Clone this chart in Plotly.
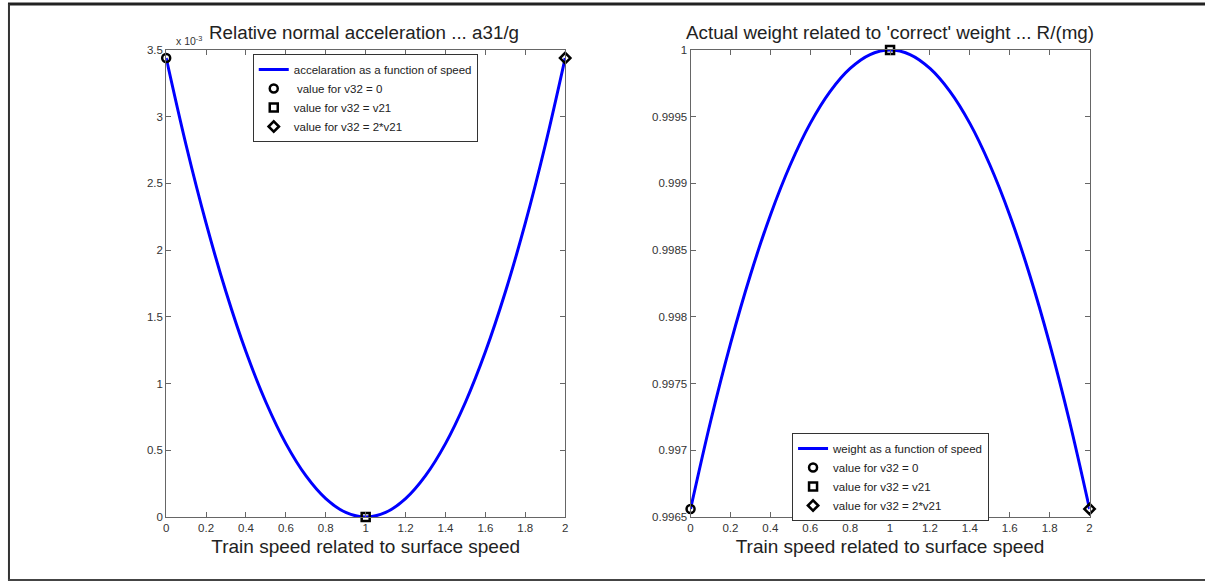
import plotly.graph_objects as go

# ---- data ----
speed = [0.0, 0.1, 0.2, 0.3, 0.4, 0.5, 0.6, 0.7, 0.8, 0.9, 1.0,
         1.1, 1.2, 1.3, 1.4, 1.5, 1.6, 1.7, 1.8, 1.9, 2.0]
accel = [3.44e-3, 2.786e-3, 2.202e-3, 1.686e-3, 1.238e-3, 0.860e-3, 0.550e-3,
         0.310e-3, 0.138e-3, 0.034e-3, 0.0,
         0.034e-3, 0.138e-3, 0.310e-3, 0.550e-3, 0.860e-3, 1.238e-3,
         1.686e-3, 2.202e-3, 2.786e-3, 3.44e-3]
weight = [0.99656, 0.997214, 0.997798, 0.998314, 0.998762, 0.99914, 0.99945,
          0.99969, 0.999862, 0.999966, 1.0,
          0.999966, 0.999862, 0.99969, 0.99945, 0.99914, 0.998762,
          0.998314, 0.997798, 0.997214, 0.99656]

pt_speed = [0.0, 1.0, 2.0]
pt_accel = [3.44e-3, 0.0, 3.44e-3]
pt_weight = [0.99656, 1.0, 0.99656]

x_ticks = [0, 0.2, 0.4, 0.6, 0.8, 1, 1.2, 1.4, 1.6, 1.8, 2]
x_ticktext = ["0", "0.2", "0.4", "0.6", "0.8", "1", "1.2", "1.4", "1.6", "1.8", "2"]
acc_ticks = [0, 0.5e-3, 1e-3, 1.5e-3, 2e-3, 2.5e-3, 3e-3, 3.5e-3]
acc_ticktext = ["0", "0.5", "1", "1.5", "2", "2.5", "3", "3.5"]
w_ticks = [0.9965, 0.997, 0.9975, 0.998, 0.9985, 0.999, 0.9995, 1.0]
w_ticktext = ["0.9965", "0.997", "0.9975", "0.998", "0.9985", "0.999", "0.9995", "1"]

left_names = ["accelaration as a function of speed", " value for v32 = 0",
              "value for v32 = v21", "value for v32 = 2*v21"]
right_names = ["weight as a function of speed", "value for v32 = 0",
               "value for v32 = v21", "value for v32 = 2*v21"]
symbols = ["circle-open", "square-open", "diamond-open"]

FONT = "Liberation Sans, Arial, Helvetica, sans-serif"
W, H = 1205, 582
ML, MR, MT, MB = 0, 0, 50, 65

fig = go.Figure()

# left panel
fig.add_trace(go.Scatter(x=speed, y=accel, mode="lines", name=left_names[0],
                         line=dict(color="#0000ff", width=3, shape="spline"),
                         xaxis="x", yaxis="y", legend="legend"))
for i in range(3):
    fig.add_trace(go.Scatter(x=[pt_speed[i]], y=[pt_accel[i]], mode="markers",
                             name=left_names[i + 1], cliponaxis=False,
                             marker=dict(symbol=symbols[i], size=8, color="black",
                                         line=dict(width=2.5, color="black")),
                             xaxis="x", yaxis="y", legend="legend"))
# right panel
fig.add_trace(go.Scatter(x=speed, y=weight, mode="lines", name=right_names[0],
                         line=dict(color="#0000ff", width=3, shape="spline"),
                         xaxis="x2", yaxis="y2", legend="legend2"))
for i in range(3):
    fig.add_trace(go.Scatter(x=[pt_speed[i]], y=[pt_weight[i]], mode="markers",
                             name=right_names[i + 1], cliponaxis=False,
                             marker=dict(symbol=symbols[i], size=8, color="black",
                                         line=dict(width=2.5, color="black")),
                             xaxis="x2", yaxis="y2", legend="legend2"))

axis_common = dict(showline=True, mirror="ticks", linecolor="#666", linewidth=1,
                   ticks="inside", ticklen=5, tickcolor="#666", showgrid=False,
                   zeroline=False, tickfont=dict(size=11.5, color="#333", family=FONT))

def px_x(p):
    return (p - ML) / (W - ML - MR)

def px_y(p):
    return (H - MB - p) / (H - MT - MB)

xtitle = dict(text="Train speed related to surface speed",
              font=dict(size=19, color="#222"), standoff=6)

fig.update_layout(
    width=W, height=H,
    margin=dict(l=ML, r=MR, t=MT, b=MB),
    paper_bgcolor="white", plot_bgcolor="white",
    font=dict(family=FONT, color="#222"),
    xaxis=dict(domain=[px_x(164), px_x(565)], range=[0, 2], tickvals=x_ticks,
               ticktext=x_ticktext, anchor="y", title=xtitle, **axis_common),
    yaxis=dict(domain=[0, 1], range=[0, 3.5e-3], tickvals=acc_ticks,
               ticktext=acc_ticktext, anchor="x", **axis_common),
    xaxis2=dict(domain=[px_x(691), px_x(1092)], range=[0, 2], tickvals=x_ticks,
                ticktext=x_ticktext, anchor="y2", title=xtitle, **axis_common),
    yaxis2=dict(domain=[0, 1], range=[0.9965, 1.0], tickvals=w_ticks,
                ticktext=w_ticktext, anchor="x2", **axis_common),
    legend=dict(x=px_x(251), y=px_y(54), xanchor="left", yanchor="top",
                bordercolor="#333", borderwidth=1, bgcolor="white",
                font=dict(size=11.5, family=FONT, color="#222"),
                tracegroupgap=0, itemwidth=30),
    legend2=dict(x=px_x(793), y=px_y(433), xanchor="left", yanchor="top",
                 bordercolor="#333", borderwidth=1, bgcolor="white",
                 font=dict(size=11.5, family=FONT, color="#222"),
                 tracegroupgap=0, itemwidth=30, entrywidth=180,
                 entrywidthmode="pixels"),
    annotations=[
        dict(text="Relative normal acceleration ... a31/g", x=px_x(363), y=px_y(33),
             xref="paper", yref="paper", xanchor="center", yanchor="middle",
             showarrow=False, font=dict(size=18.8, color="#222")),
        dict(text="Actual weight related to 'correct' weight ... R/(mg)",
             x=px_x(891), y=px_y(33), xref="paper", yref="paper",
             xanchor="center", yanchor="middle", showarrow=False,
             font=dict(size=18.8, color="#222")),
        dict(text="x 10<sup>-3</sup>", x=px_x(172), y=px_y(40), xref="paper",
             yref="paper", xanchor="left", yanchor="middle", showarrow=False,
             font=dict(size=10.5, color="#333")),
    ],
    shapes=[
        dict(type="line", xref="paper", yref="paper", x0=px_x(5), x1=px_x(1210),
             y0=px_y(4), y1=px_y(4), line=dict(color="#222", width=3)),
        dict(type="line", xref="paper", yref="paper", x0=px_x(6), x1=px_x(6),
             y0=px_y(4), y1=px_y(580), line=dict(color="#333", width=2)),
        dict(type="line", xref="paper", yref="paper", x0=px_x(5), x1=px_x(1210),
             y0=px_y(580), y1=px_y(580), line=dict(color="#444", width=2)),
    ],
)

fig.write_html("out.html", config={"displayModeBar": False},
               post_script="document.body.style.margin='0';document.body.style.overflow='hidden';")
